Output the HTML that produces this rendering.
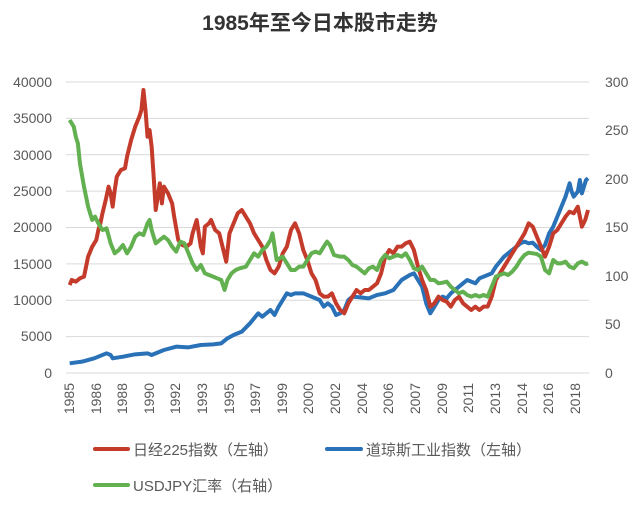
<!DOCTYPE html>
<html><head><meta charset="utf-8"><style>
body{margin:0;background:#fff;}
svg text{font-family:"Liberation Sans","Noto Sans CJK SC",sans-serif;fill:#595959;}
</style></head><body>
<svg width="640" height="503" viewBox="0 0 640 503" xmlns="http://www.w3.org/2000/svg">
<text x="320" y="30" text-anchor="middle" font-size="21" font-weight="bold" style="fill:#333">1985年至今日本股市走势</text>
<g stroke="#d9d9d9" stroke-width="1">
<line x1="66" x2="589" y1="82" y2="82"/><line x1="66" x2="589" y1="118.4" y2="118.4"/><line x1="66" x2="589" y1="154.8" y2="154.8"/><line x1="66" x2="589" y1="191.1" y2="191.1"/><line x1="66" x2="589" y1="227.5" y2="227.5"/><line x1="66" x2="589" y1="263.9" y2="263.9"/><line x1="66" x2="589" y1="300.3" y2="300.3"/><line x1="66" x2="589" y1="336.6" y2="336.6"/><line x1="66" x2="589" y1="373" y2="373"/>
</g>
<g font-size="14" text-anchor="end">
<text x="52" y="87">40000</text><text x="52" y="123">35000</text><text x="52" y="160">30000</text><text x="52" y="196">25000</text><text x="52" y="232">20000</text><text x="52" y="269">15000</text><text x="52" y="305">10000</text><text x="52" y="341">5000</text><text x="52" y="378">0</text>
</g>
<g font-size="14">
<text x="605" y="87">300</text><text x="605" y="135">250</text><text x="605" y="184">200</text><text x="605" y="232">150</text><text x="605" y="281">100</text><text x="605" y="329">50</text><text x="605" y="378">0</text>
</g>
<g font-size="14" text-anchor="end">
<text transform="translate(74,383) rotate(-90)">1985</text><text transform="translate(101,383) rotate(-90)">1986</text><text transform="translate(127,383) rotate(-90)">1988</text><text transform="translate(154,383) rotate(-90)">1990</text><text transform="translate(180,383) rotate(-90)">1992</text><text transform="translate(207,383) rotate(-90)">1993</text><text transform="translate(234,383) rotate(-90)">1995</text><text transform="translate(260,383) rotate(-90)">1997</text><text transform="translate(287,383) rotate(-90)">1999</text><text transform="translate(313,383) rotate(-90)">2000</text><text transform="translate(340,383) rotate(-90)">2002</text><text transform="translate(367,383) rotate(-90)">2004</text><text transform="translate(393,383) rotate(-90)">2006</text><text transform="translate(420,383) rotate(-90)">2007</text><text transform="translate(447,383) rotate(-90)">2009</text><text transform="translate(473,383) rotate(-90)">2011</text><text transform="translate(500,383) rotate(-90)">2013</text><text transform="translate(527,383) rotate(-90)">2014</text><text transform="translate(553,383) rotate(-90)">2016</text><text transform="translate(580,383) rotate(-90)">2018</text>
</g>
<g transform="translate(0,60) scale(0.4098,0.33333)" fill="none" stroke-linejoin="round">
<polyline vector-effect="non-scaling-stroke" stroke="#2a72b8" stroke-width="4" points="170,910 200,905 230,895 260,880 270,885 275,895 300,890 330,883 360,880 370,885 400,870 430,860 460,862 490,855 520,853 540,850 555,835 570,825 590,815 610,790 630,760 640,770 660,750 670,765 680,740 690,720 700,700 710,705 720,700 740,700 760,710 780,720 790,740 800,730 810,740 820,765 830,760 840,750 850,720 860,710 880,712 900,715 920,705 940,700 960,690 980,660 1000,645 1010,640 1020,660 1030,680 1040,730 1050,760 1060,740 1070,720 1080,710 1090,715 1100,700 1110,690 1120,680 1130,670 1140,660 1150,665 1160,670 1170,655 1190,645 1200,640 1210,620 1220,605 1230,590 1240,580 1250,570 1260,560 1270,550 1280,545 1290,550 1300,548 1310,560 1320,570 1330,555 1340,520 1350,500 1360,470 1370,440 1380,410 1390,370 1395,395 1400,410 1410,395 1415,360 1420,400 1425,380 1430,360 1435,355"/>
<polyline vector-effect="non-scaling-stroke" stroke="#c43b2c" stroke-width="4" points="170,675 175,660 185,665 195,655 205,650 210,620 215,590 225,560 235,540 240,510 245,490 250,460 258,420 265,380 270,400 275,440 280,390 285,350 295,330 305,325 310,290 320,240 330,200 340,170 345,150 350,90 355,150 360,230 365,210 370,260 375,350 380,450 390,370 395,430 400,380 410,400 420,430 425,470 435,540 445,555 455,560 465,550 470,520 480,480 490,560 495,580 500,500 510,490 515,480 525,510 535,520 545,570 552,605 560,520 570,490 580,460 590,450 600,470 610,490 620,520 630,540 640,560 650,600 660,630 670,640 680,620 690,580 700,560 710,510 720,490 730,520 740,570 750,600 760,640 770,660 780,700 790,710 800,710 810,700 820,730 830,750 840,760 850,730 860,710 870,690 880,700 890,690 900,690 910,680 920,670 930,640 940,590 950,570 960,580 970,560 980,560 990,550 1000,545 1010,570 1020,620 1030,660 1040,690 1050,740 1060,730 1070,710 1080,720 1090,725 1100,740 1110,720 1120,710 1130,730 1140,740 1150,750 1160,740 1170,750 1180,740 1190,740 1200,710 1210,660 1220,640 1230,620 1240,600 1250,580 1260,560 1270,540 1280,520 1290,490 1300,500 1310,530 1320,560 1330,590 1340,560 1350,520 1360,510 1370,490 1380,470 1390,455 1400,460 1410,440 1420,500 1428,480 1435,450"/>
<polyline vector-effect="non-scaling-stroke" stroke="#62b04f" stroke-width="4" points="170,180 180,200 185,230 190,250 195,310 205,380 215,440 225,480 232,470 240,490 250,510 260,505 270,550 280,580 290,570 300,555 310,580 320,560 330,530 340,520 350,525 360,490 365,480 370,510 380,550 390,540 400,530 410,540 420,560 430,575 440,545 450,550 460,580 470,610 480,630 490,615 500,640 510,645 520,650 530,655 540,660 548,690 555,660 565,640 575,630 585,625 600,620 610,600 620,580 630,590 640,570 650,560 660,540 665,520 675,600 690,590 700,610 710,630 720,630 730,620 740,620 750,600 760,580 770,575 780,580 790,560 798,545 805,555 815,585 830,590 840,590 850,600 860,615 870,620 880,630 890,640 900,625 910,620 920,630 930,600 940,585 950,595 960,590 970,585 980,590 990,580 1000,600 1010,625 1020,630 1030,620 1040,640 1050,660 1060,660 1070,670 1080,668 1090,665 1100,680 1110,690 1120,700 1130,695 1140,705 1150,710 1160,705 1170,710 1180,705 1190,710 1200,680 1210,650 1220,645 1230,640 1240,645 1250,635 1260,620 1270,600 1280,585 1290,578 1300,580 1310,582 1320,590 1330,630 1340,640 1350,600 1360,610 1370,610 1380,605 1390,620 1400,625 1410,610 1420,605 1430,612 1435,610"/>
</g>
<g stroke-width="4" stroke-linecap="round">
<line x1="95" x2="128" y1="449" y2="449" stroke="#c43b2c"/>
<line x1="327" x2="361" y1="449" y2="449" stroke="#2a72b8"/>
<line x1="95" x2="128" y1="485" y2="485" stroke="#62b04f"/>
</g>
<g font-size="15">
<text x="133" y="455">日经225指数（左轴）</text>
<text x="366" y="455">道琼斯工业指数（左轴）</text>
<text x="133" y="491">USDJPY汇率（右轴）</text>
</g>
</svg>
</body></html>
